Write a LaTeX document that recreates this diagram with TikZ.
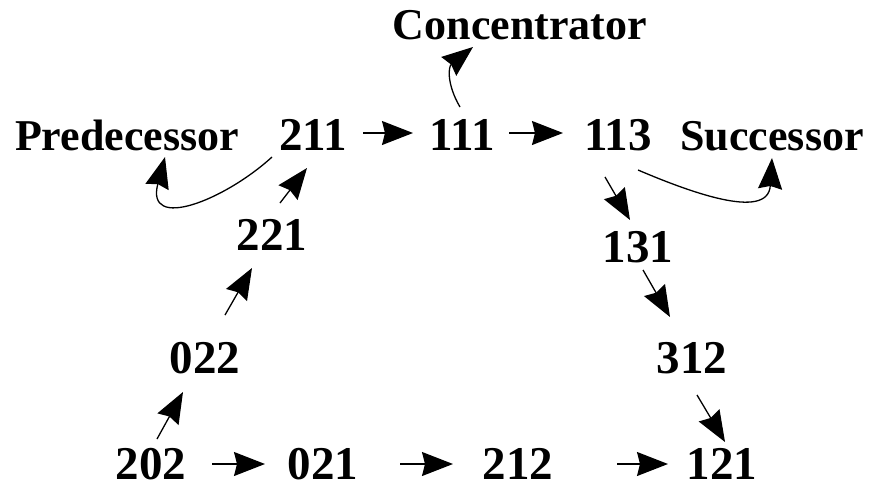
\documentclass[tikz,border=0pt]{standalone}
\usepackage{fontspec}
\setmainfont{Liberation Serif}
\usetikzlibrary{arrows.meta}
\begin{document}
\begin{tikzpicture}[x=1pt, y=-1pt,
  lbl/.style={anchor=base, inner sep=0pt, text depth=0pt, font=\fontsize{44}{46}\selectfont\bfseries},
  num/.style={lbl, font=\fontsize{47}{49}\selectfont\bfseries},
  arr/.style={line width=1.3pt, -{Stealth[length=31pt,width=24pt,inset=3pt]}}]
\useasboundingbox (0,0) rectangle (872,490);

% role labels
\node[lbl] (conc) at (520,39)  {Concentrator};
\node[lbl] (pred) at (127,150) {Predecessor};
\node[lbl] (succ) at (772,150) {Successor};

% ring of states
\node[num] (n211) at (313,150) {211};
\node[num] (n111) at (462,150) {111};
\node[num] (n113) at (618,150) {113};
\node[num] (n221) at (272,250) {221};
\node[num] (n131) at (638,262) {131};
\node[num] (n022) at (205,373) {022};
\node[num] (n312) at (692,373) {312};
\node[num] (n202) at (151,479) {202};
\node[num] (n021) at (323,479) {021};
\node[num] (n212) at (518,479) {212};
\node[num] (n121) at (722,479) {121};

% top row
\draw[arr] ([xshift=50pt,yshift=17pt]n211.base) -- ([xshift=-49pt,yshift=17pt]n111.base);
\draw[arr] ([xshift=47pt,yshift=17pt]n111.base) -- ([xshift=-55pt,yshift=17pt]n113.base);

% bottom row
\draw[arr] ([xshift=61pt,yshift=15pt]n202.base) -- ([xshift=-58pt,yshift=15pt]n021.base);
\draw[arr] ([xshift=77pt,yshift=15pt]n021.base) -- ([xshift=-65pt,yshift=15pt]n212.base);
\draw[arr] ([xshift=99pt,yshift=15pt]n212.base) -- ([xshift=-54pt,yshift=15pt]n121.base);

% left column, going up
\draw[arr] ([xshift=6pt,yshift=40pt]n202.base) -- ([xshift=-22pt,yshift=-19pt]n022.base);
\draw[arr] ([xshift=20pt,yshift=58pt]n022.base) -- ([xshift=-20pt,yshift=-18pt]n221.base);
\draw[arr] ([xshift=8pt,yshift=47pt]n221.base) -- ([xshift=-6pt,yshift=-18pt]n211.base);

% right column, going down
\draw[arr] ([xshift=-13pt,yshift=-27pt]n113.base) -- ([xshift=-8pt,yshift=42pt]n131.base);
\draw[arr] ([xshift=5pt,yshift=-8pt]n131.base) -- ([xshift=-22pt,yshift=56pt]n312.base);
\draw[arr] ([xshift=5pt,yshift=-22pt]n312.base) -- ([xshift=3pt,yshift=37pt]n121.base);

% curved pointers to the role labels
\draw[arr] ([xshift=-2pt,yshift=43pt]n111.base) .. controls +(-13,-22) and +(-25,20) .. ([xshift=-47pt,yshift=-8pt]conc.base);
\draw[arr] ([xshift=-41pt,yshift=-7pt]n211.base) .. controls +(-47,43) and +(-20,75) .. ([xshift=38pt,yshift=-7pt]pred.base);
\draw[arr] ([xshift=20pt,yshift=-20pt]n113.base) .. controls +(47,20) and +(-4,64) .. ([yshift=-8pt]succ.base);
\end{tikzpicture}
\end{document}
